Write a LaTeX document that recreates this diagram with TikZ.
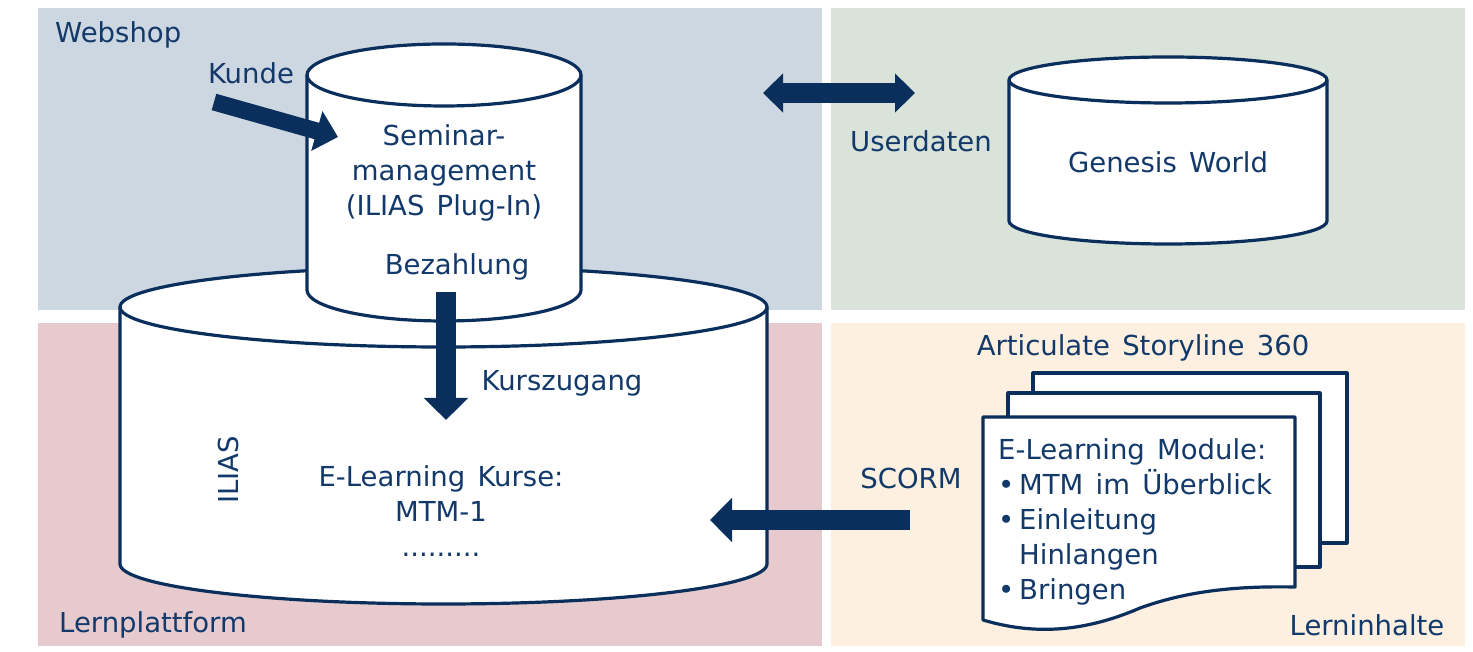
\documentclass[tikz,border=0pt]{standalone}
\usepackage{fontspec}
\setmainfont{DejaVu Sans}[WordSpace=1.4]
\usetikzlibrary{arrows.meta,positioning}
\definecolor{navy}{HTML}{0B2F5C}
\definecolor{textblue}{HTML}{12396A}
\definecolor{shopbg}{HTML}{CDD7E1}
\definecolor{crmbg}{HTML}{DAE3D9}
\definecolor{lmsbg}{HTML}{E6CACE}
\definecolor{contentbg}{HTML}{FDF0E0}
\tikzstyle{dbline}=[draw=navy, line width=3.2pt, fill=white, line join=round]
\tikzstyle{page}=[draw=navy, line width=3.2pt, fill=white, line join=round]
\tikzstyle{txt}=[text=textblue, inner sep=0pt, font=\fontsize{27.5}{35}\selectfont]
\tikzstyle{bigarrow}=[draw=navy, line width=20pt, -{Triangle[width=43pt,length=22pt]}]

\begin{document}
\begin{tikzpicture}[x=1pt,y=1pt]
\useasboundingbox (0,0) rectangle (1473,652);

% areas
\fill[shopbg] (38,342) rectangle (822,644);
\fill[crmbg] (831,342) rectangle (1465,644);
\fill[lmsbg] (38,6) rectangle (822,329);
\fill[contentbg] (831,6) rectangle (1465,329);

\node (webshop) [txt, anchor=west] at (55,617) {Webshop};
\node (lernplattform) [txt] at (153,27) {Lernplattform};
\node (lerninhalte) [txt] at (1367,27) {Lerninhalte};

% ILIAS
\draw [dbline] (120,345) -- (120,88) arc[start angle=180, end angle=360, x radius=323.5pt, y radius=40pt]
  -- (767,345) arc[start angle=0, end angle=180, x radius=323.5pt, y radius=40pt] -- cycle;
\draw [dbline, fill=none] (120,345) arc[start angle=180, end angle=360, x radius=323.5pt, y radius=40pt];
\node (ilias) [txt, rotate=90] at (228,182) {ILIAS};
\node (kurse) [txt, align=center] at (441,141) {E-Learning Kurse:\\MTM-1\\.........};

% Seminarmanagement
\draw [dbline] (307,577) -- (307,362) arc[start angle=180, end angle=360, x radius=137pt, y radius=31pt]
  -- (581,577) arc[start angle=0, end angle=180, x radius=137pt, y radius=31pt] -- cycle;
\draw [dbline, fill=none] (307,577) arc[start angle=180, end angle=360, x radius=137pt, y radius=31pt];
\node (seminar) [txt, align=center] at (444,479) {Seminar-\\management\\(ILIAS Plug-In)};
\node (bezahlung) [txt] at (457,385) {Bezahlung};
\node (kunde) [txt] at (251,579) {Kunde};

% Genesis World
\draw [dbline] (1009,572) -- (1009,431) arc[start angle=180, end angle=360, x radius=159pt, y radius=23pt]
  -- (1327,572) arc[start angle=0, end angle=180, x radius=159pt, y radius=23pt] -- cycle;
\draw [dbline, fill=none] (1009,572) arc[start angle=180, end angle=360, x radius=159pt, y radius=23pt];
\node (genesis) [txt] at (1168,490) {Genesis World};
\node (userdaten) [txt] at (921,511) {Userdaten};

% Storyline pages
\node (storyline) [txt] at (1143,304) {Articulate Storyline 360};
\draw [page] (1033,109) rectangle (1347,279);
\draw [page] (1008,85) rectangle (1320,259);
\draw [page] (983,235) -- (983,32) .. controls (1030,18) and (1080,18) .. (1140,44)
  .. controls (1190,62) and (1240,66) .. (1295,65) -- (1295,235) -- cycle;
\node (module) [txt, align=left, anchor=west] at (998,130)
  {E-Learning Module:\\
   \makebox[21pt][l]{\textbullet}MTM im Überblick\\
   \makebox[21pt][l]{\textbullet}Einleitung\\
   \hspace*{21pt}Hinlangen\\
   \makebox[21pt][l]{\textbullet}Bringen};
\node (scorm) [txt] at (911,174) {SCORM};
\node (kurszugang) [txt] at (562,269) {Kurszugang};

% arrows
\coordinate (kundeout) at (214,550);
\coordinate (seminarin) at (338,515);
\coordinate (payout) at (446,360);
\coordinate (coursein) at (446,232);
\coordinate (shopside) at (763,559);
\coordinate (crmside) at (915,559);
\coordinate (scormout) at (910,132);
\coordinate (iliasin) at (710,132);

\draw [bigarrow, line width=17pt, -{Triangle[width=40pt,length=22pt]}] (kundeout) -- (seminarin);
\draw [bigarrow] (payout) -- (coursein);
\draw [bigarrow, {Triangle[width=38pt,length=20pt]}-{Triangle[width=38pt,length=20pt]}] (shopside) -- (crmside);
\draw [bigarrow] (scormout) -- (iliasin);

\end{tikzpicture}
\end{document}
